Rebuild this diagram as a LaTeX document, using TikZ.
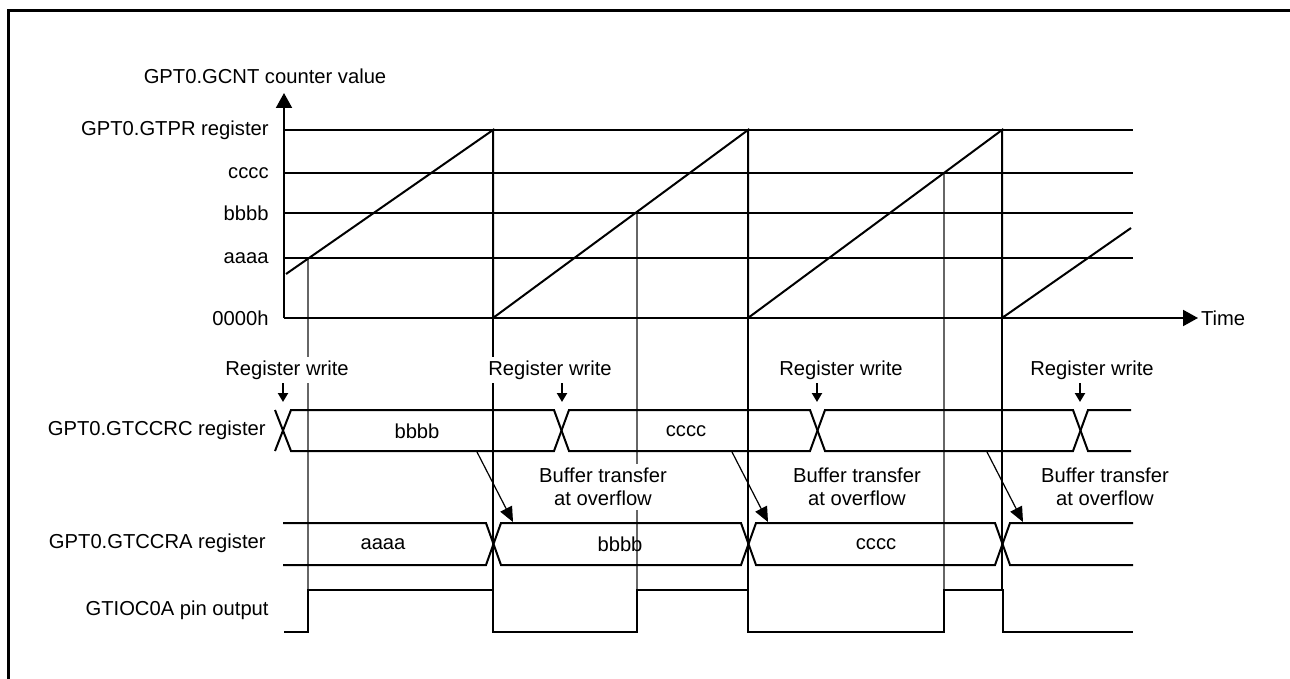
\documentclass[tikz,border=0pt]{standalone}
\usepackage{fontspec}
\setmainfont{Liberation Sans}
\usetikzlibrary{arrows.meta,positioning,calc}
\tikzset{
  tframe/.style={line width=1.5pt},
  taxis/.style={line width=1pt, -{Triangle[length=7.5pt,width=8pt]}},
  tlevel/.style={line width=1pt},
  tramp/.style={line width=1pt, line join=miter},
  tguide/.style={line width=0.6pt, black!60},
  tguideb/.style={line width=0.6pt, black},
  tbus/.style={line width=1pt},
  tpin/.style={line width=1pt},
  twrite/.style={line width=1.1pt, -{Triangle[length=4.5pt,width=5pt]}},
  txfer/.style={line width=0.6pt, -{Triangle[length=7.5pt,width=6.5pt]}},
  tlabel/.style={font=\fontsize{10.1}{11.6}\selectfont, inner sep=1pt},
  tnote/.style={tlabel, fill=white, inner sep=2pt, align=center},
}

\begin{document}
\begin{tikzpicture}[x=0.5pt, y=-0.5pt]
  \useasboundingbox (0,0) rectangle (1290,679);
  \draw[tframe] (8,679) -- (8,11) -- (1290,11);

  % guide lines (drawn first, notes cut them)
  \draw[tguide]  (308,258) -- (308,590);
  \draw[tguideb] (493,318) -- (493,590);
  \draw[tguide]  (637,213) -- (637,590);
  \draw[tguideb] (748,318) -- (748,590);
  \draw[tguide]  (944,173) -- (944,590);
  \draw[tguideb] (1002,318) -- (1002,590);

  % counter levels
  \node[tlabel] (title) at (265,76) {GPT0.GCNT counter value};
  \foreach \yy/\txt [count=\i] in {130/GPT0.GTPR register, 173/cccc, 213/bbbb, 258/aaaa}{
    \node[tlabel, anchor=east] (lv\i) at (271,\yy) {\txt};
    \draw[tlevel] (284,\yy) -- (1133,\yy);
  }
  \node[tlabel, anchor=east] (lv0) at (271,318) {0000h};
  \draw[taxis] (284,318) -- (284,93);
  \draw[taxis] (284,318) -- (1198,318) node[tlabel, anchor=west] (time) {Time};
  \draw[tramp] (286,274) -- (493,130) -- (493,318) -- (748,130) -- (748,318)
        -- (1002,130) -- (1002,318) -- (1131,228);

  % GTCCRC
  \node[tlabel, anchor=east] (ccrc) at (268,430) {GPT0.GTCCRC register};
  \draw[tbus] (275,451) -- (291,410) -- (554,410) -- (569,451) -- (810,451)
        -- (825,410) -- (1073,410) -- (1088,451) -- (1131,451);
  \draw[tbus] (275,410) -- (291,451) -- (554,451) -- (569,410) -- (810,410)
        -- (825,451) -- (1073,451) -- (1088,410) -- (1131,410);
  \coordinate (cX1) at (283,410);
  \coordinate (cX2) at (562,410);
  \coordinate (cX3) at (817,410);
  \coordinate (cX4) at (1080,410);
  \node[tlabel] (cb) at (417,431) {bbbb};
  \node[tlabel] (cc) at (686,431) {cccc};

  % GTCCRA
  \node[tlabel, anchor=east] (ccra) at (268,543) {GPT0.GTCCRA register};
  \draw[tbus] (283,523) -- (486,523) -- (501,565) -- (741,565) -- (756,523)
        -- (995,523) -- (1010,565) -- (1133,565);
  \draw[tbus] (283,565) -- (486,565) -- (501,523) -- (741,523) -- (756,565)
        -- (995,565) -- (1010,523) -- (1133,523);
  \coordinate (aX1) at (493,523);
  \coordinate (aX2) at (748,523);
  \coordinate (aX3) at (1003,523);
  \node[tlabel] (aa) at (383,544) {aaaa};
  \node[tlabel] (ab) at (620,544) {bbbb};
  \node[tlabel] (ac) at (876,544) {cccc};

  % pin output
  \node[tlabel, anchor=east] (pin) at (271,610) {GTIOC0A pin output};
  \draw[tpin] (284,632) -- (308,632) -- (308,590) -- (493,590) -- (493,632)
        -- (637,632) -- (637,590) -- (748,590) -- (748,632) -- (944,632)
        -- (944,590) -- (1003,590) -- (1003,632) -- (1133,632);

  % register writes
  \foreach \xx/\c [count=\i] in {287/cX1, 550/cX2, 841/cX3, 1092/cX4}{
    \node[tnote] (rw\i) at (\xx,370) {Register write};
    \draw[twrite] ($(\c)+(0,-27)$) -- ($(\c)+(0,-8)$);
  }

  % buffer transfers
  \foreach \xx/\c [count=\i] in {603/aX1, 857/aX2, 1105/aX3}{
    \node[tnote] (bt\i) at (\xx,487) {Buffer transfer\\at overflow};
    \draw[txfer] ($(\c)+(-16,-71)$) -- ($(\c)+(20,-1)$);
  }
\end{tikzpicture}
\end{document}
